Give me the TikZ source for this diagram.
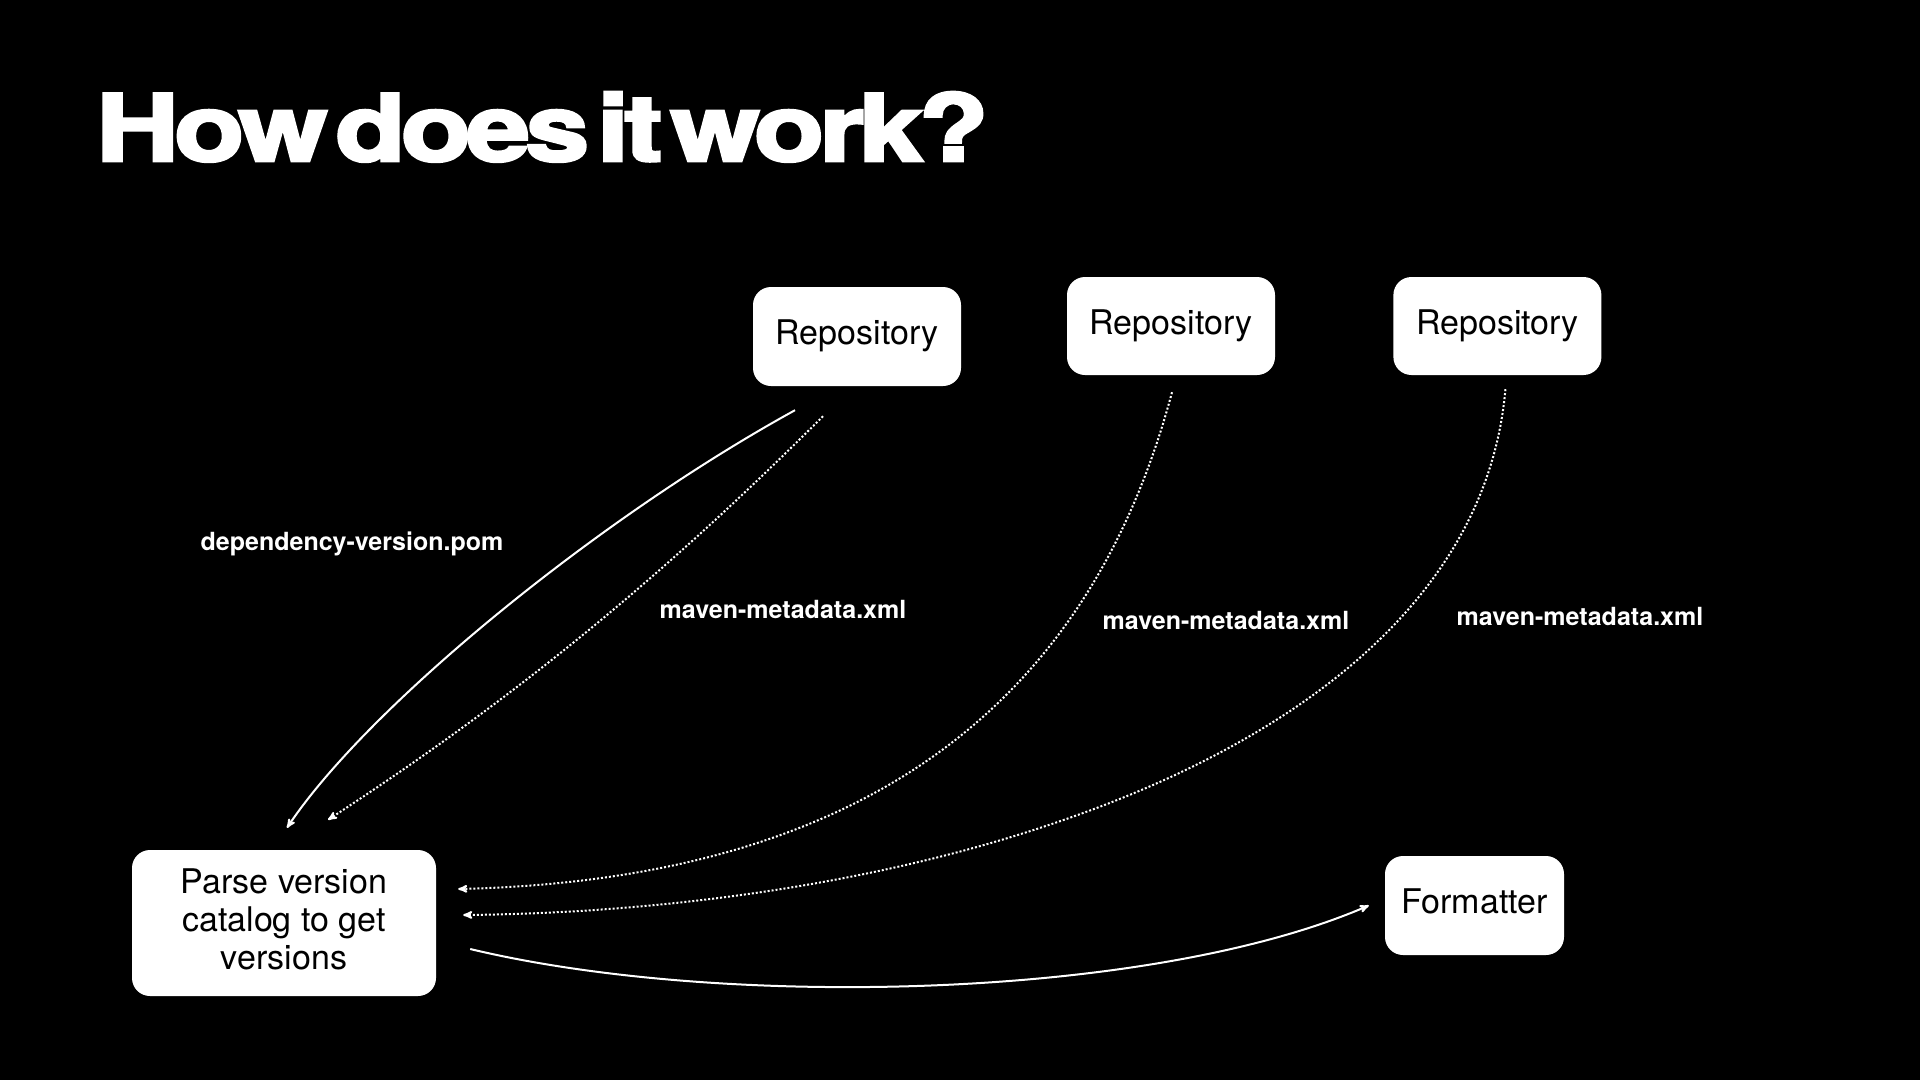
\documentclass[tikz,border=0pt]{standalone}
\usepackage{fontspec}
\usepackage{graphicx}
\usepackage{tikz}
\usetikzlibrary{arrows, positioning, calc}

\setmainfont{TeX Gyre Heros}
\newfontfamily\headfont{TeX Gyre Heros}[FakeBold=3,LetterSpace=-4,WordSpace=0.3]

\tikzset{
  box/.style={fill=white, rounded corners=18pt, text=black, align=center,
              font=\fontsize{34}{38}\selectfont, inner sep=0pt, text depth=8pt},
  lbl/.style={text=white, font=\fontsize{25}{30}\selectfont\bfseries},
  link/.style={->, draw=white, line width=2pt},
  dots/.style={link, dash pattern=on 2pt off 2pt}
}

\begin{document}
\begin{tikzpicture}[x=1pt,y=-1pt,>=stealth']
			\fill[black] (0,0) rectangle (1920,1080);
			\node[anchor=base west, text=white, inner sep=0pt] (title) at (96,161)
				{\resizebox{892pt}{69pt}{\headfont\bfseries How does it work?}};
			\node[box, minimum width=208pt, minimum height=99pt] (repoA) at (857,336.5) {Repository};
			\node[box, minimum width=208pt, minimum height=98pt] (repoB) at (1171,326) {Repository};
			\node[box, minimum width=208pt, minimum height=98pt, right=118pt of repoB] (repoC) {Repository};
			\node[box, minimum width=304pt, minimum height=146pt] (parse) at (284,923) {Parse version\\catalog to get\\versions};
			\node[box, minimum width=179pt, minimum height=99pt] (formatter) at (1474.5,905.5) {Formatter};
			\node[lbl] (pom) at (352,544) {dependency-version.pom};
			\node[lbl] (metaA) at (783,609) {maven-metadata.xml};
			\node[lbl] (metaB) at (1226,620) {maven-metadata.xml};
			\node[lbl] (metaC) at (1580,616) {maven-metadata.xml};
			\draw[link] ($(repoA.south)+(-62,24)$) .. controls +(-200,110) and +(80,-120) .. ($(parse.north)+(3,-22)$);
			\draw[dots] ($(repoA.south)+(-34,30)$) .. controls +(-150,150) and +(200,-130) .. ($(parse.north)+(44,-30)$);
			\draw[dots] ($(repoB.south)+(1,17)$) .. controls +(-80,300) and +(420,-10) .. ($(parse.east)+(22,-34)$);
			\draw[dots] ($(repoC.south)+(8,14)$) .. controls +(-30,350) and +(500,-5) .. ($(parse.east)+(27,-8)$);
			\draw[link] ($(parse.east)+(34,26)$) .. controls +(250,60) and +(-220,95) .. ($(formatter.west)+(-16,0)$);
		\end{tikzpicture}
\end{document}
